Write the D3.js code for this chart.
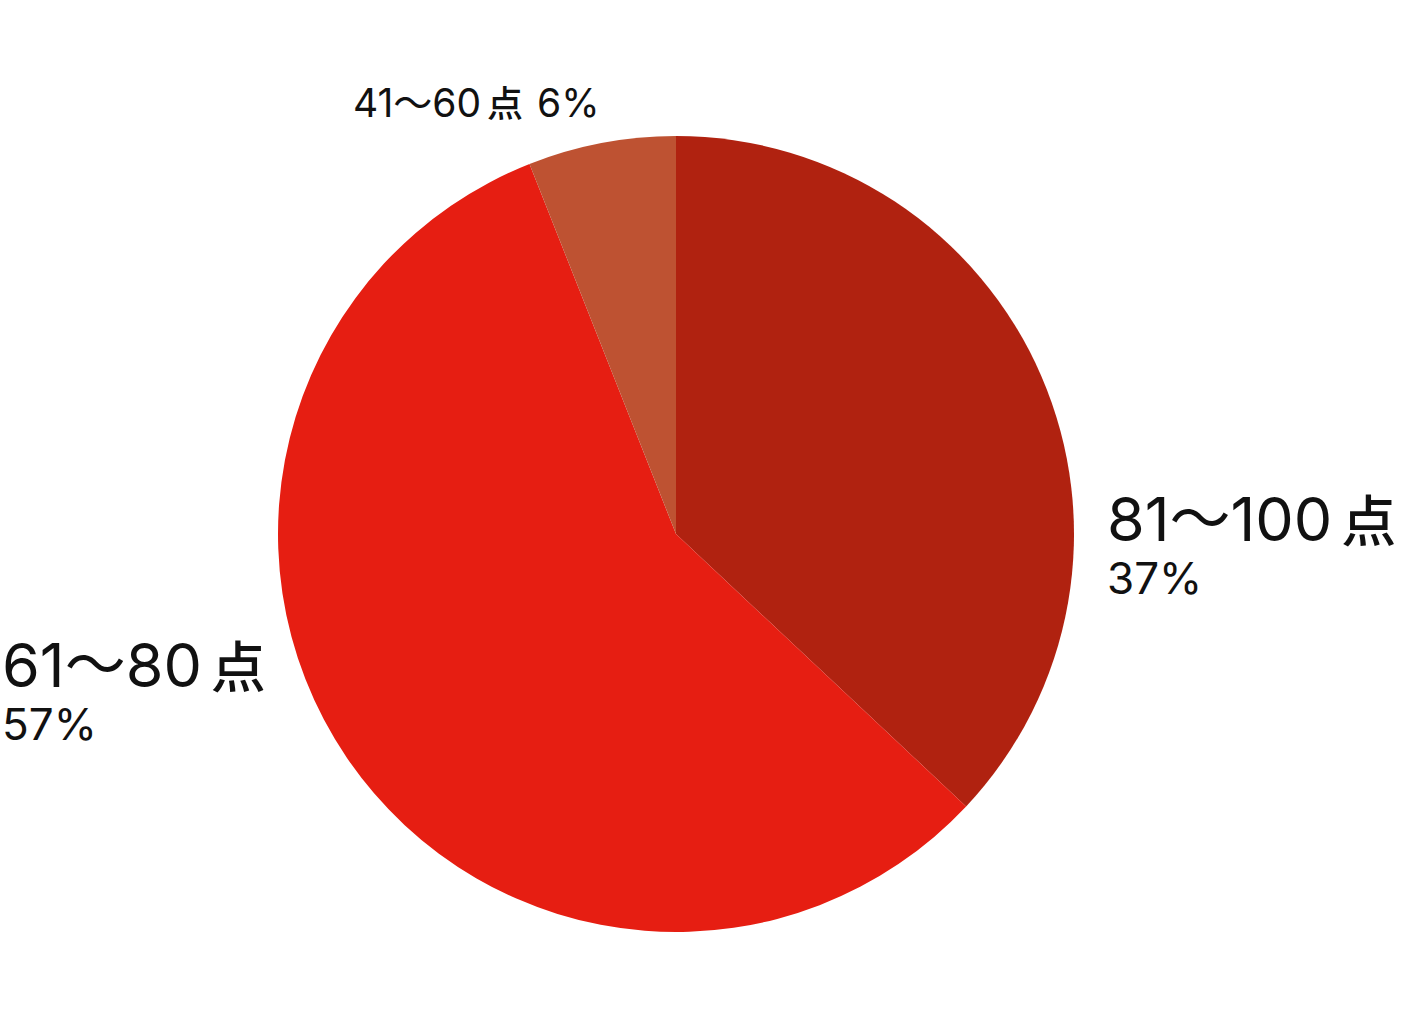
<!DOCTYPE html>
<html><head><meta charset="utf-8">
<script src="https://cdn.jsdelivr.net/npm/d3@7"></script>
<style>
html,body{margin:0;padding:0;background:#fff;}
text{font-family:Inter,"Noto Sans CJK JP",sans-serif;fill:#111;}
.pt{font-family:"Noto Sans CJK JP",sans-serif;font-weight:500;}
</style></head>
<body>
<svg id="chart" width="1402" height="1016"></svg>
<script>
const categories = ["81～100", "61～80", "41～60"];
const values = [37, 57, 6];
const unit = "点";
const colors = ["#B02210", "#E61E12", "#BE5232"];

const svg = d3.select("#chart");
const cx = 676, cy = 534, r = 398;
const data = categories.map((c, i) => ({cat: c, value: values[i]}));
const pie = d3.pie().sort(null).value(d => d.value);
const arc = d3.arc().innerRadius(0).outerRadius(r);
const color = d3.scaleOrdinal().domain(categories).range(colors);
const arcs = pie(data);

const g = svg.append("g").attr("transform", `translate(${cx},${cy})`);
g.selectAll("path").data(arcs).enter().append("path")
  .attr("d", arc).attr("fill", d => color(d.data.cat));

// labels
const lab = [
  {x: 1107, y: 541, big: 61, pt: 55, sub: 44, two: true, dx: 9},
  {x: 2, y: 687, big: 61, pt: 55, sub: 44, two: true, dx: 9},
  {x: 353, y: 117, big: 39, pt: 36, sub: 39, two: false, dx: 6}
];
arcs.forEach((a, i) => {
  const L = lab[i];
  const t = svg.append("text").attr("x", L.x).attr("y", L.y);
  t.append("tspan").attr("font-size", L.big).text(a.data.cat);
  t.append("tspan").attr("class", "pt").attr("font-size", L.pt).attr("dx", L.dx).text(unit);
  if (L.two) {
    svg.append("text").attr("x", L.x).attr("y", L.y + 53).attr("font-size", L.sub).text(a.data.value + "%");
  } else {
    t.append("tspan").attr("font-size", L.sub).attr("dx", 14).text(a.data.value + "%");
  }
});
</script>
</body></html>
